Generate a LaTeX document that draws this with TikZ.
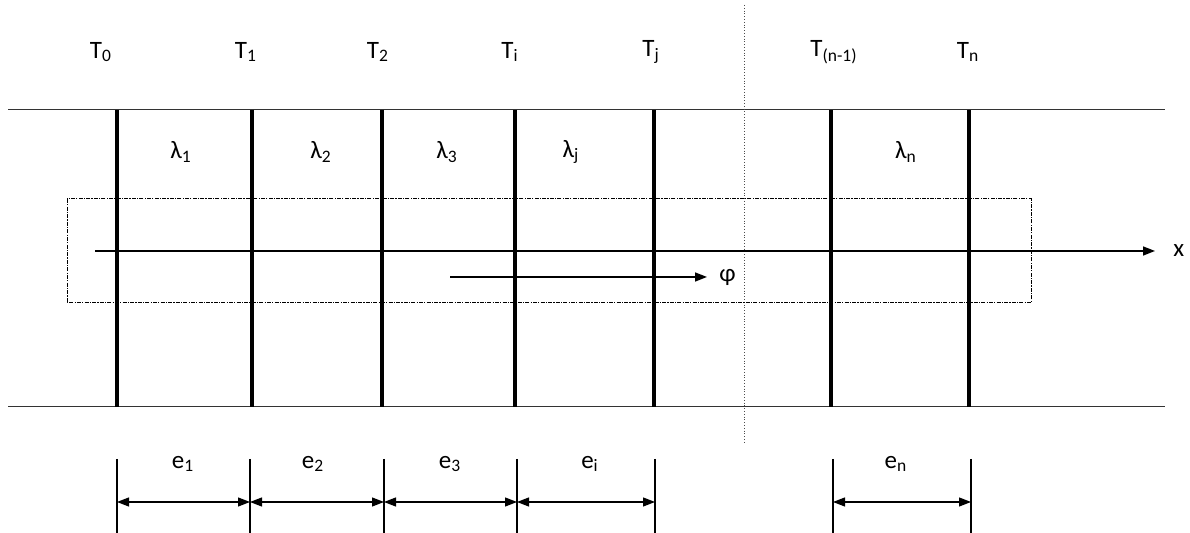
\documentclass[tikz,border=0pt]{standalone}
\usepackage{fontspec}
\setmainfont{Carlito}
\usetikzlibrary{arrows.meta}
\tikzset{
  wall/.style={line width=1.8pt},
  lbl/.style={font=\fontsize{12.5}{14}\selectfont, inner sep=0pt},
  tip/.style={-{Triangle[length=6pt,width=4.5pt]}},
  dim/.style={{Triangle[length=6pt,width=4.5pt]}-{Triangle[length=6pt,width=4.5pt]}, line width=0.6pt}
}
\begin{document}
\begin{tikzpicture}[x=0.5pt,y=-0.5pt]
\useasboundingbox (0,0) rectangle (1190,533);
% faces of the wall
\draw[line width=0.5pt,black!80] (8,110) -- (1165,110);
\draw[line width=0.5pt,black!80] (8,407) -- (1165,407);
\draw[line width=0.4pt,black!70,densely dotted] (744,5) -- (744,442);
% layers
\foreach \x in {117,252,382,515,654,831,969}
  \draw[wall] (\x,110) -- (\x,407);
% control volume
\draw[line width=0.5pt,dash pattern=on 2pt off 0.6pt on 0.6pt off 0.6pt] (67,199) rectangle (1031,303);
\draw[line width=0.8pt,tip] (95,251) -- (1155,251) coordinate (xend);
\node[lbl,right=9pt] at (xend) {x};
\draw[line width=0.8pt,tip] (450,277) -- (707,277) coordinate (phiend);
\node[lbl,right=6pt] at (phiend) {φ};
% temperatures
\node[lbl] at (101,52) {T\textsubscript{0}};
\node[lbl] at (246,52) {T\textsubscript{1}};
\node[lbl] at (378,52) {T\textsubscript{2}};
\node[lbl] at (510,52) {T\textsubscript{i}};
\node[lbl] at (651,52) {T\textsubscript{j}};
\node[lbl] at (834,52) {T\textsubscript{(n-1)}};
\node[lbl] at (968,52) {T\textsubscript{n}};
% conductivities
\node[lbl] at (181,152) {λ\textsubscript{1}};
\node[lbl] at (321,152) {λ\textsubscript{2}};
\node[lbl] at (447,152) {λ\textsubscript{3}};
\node[lbl] at (571,152) {λ\textsubscript{j}};
\node[lbl] at (906,152) {λ\textsubscript{n}};
% thicknesses
\foreach \x in {117,250,384,517,655,833,971}
  \draw[line width=0.6pt] (\x,459) -- (\x,533);
\draw[dim] (117,502) -- (250,502);
\draw[dim] (250,502) -- (384,502);
\draw[dim] (384,502) -- (517,502);
\draw[dim] (517,502) -- (655,502);
\draw[dim] (833,502) -- (971,502);
\node[lbl] at (183,464) {e\textsubscript{1}};
\node[lbl] at (313,464) {e\textsubscript{2}};
\node[lbl] at (450,464) {e\textsubscript{3}};
\node[lbl] at (590,464) {e\textsubscript{i}};
\node[lbl] at (896,464) {e\textsubscript{n}};
\end{tikzpicture}
\end{document}
